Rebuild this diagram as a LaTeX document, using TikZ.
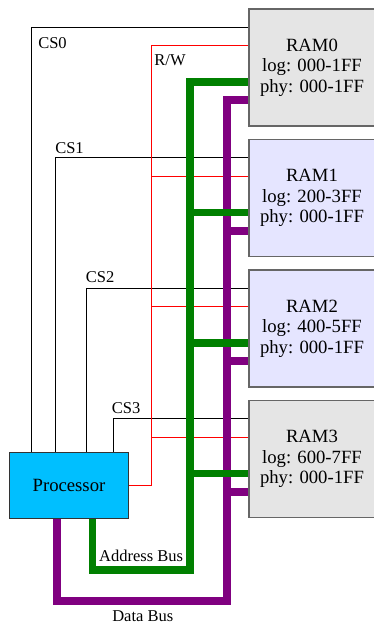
\documentclass[tikz,border=0pt]{standalone}
\usepackage{fontspec}
\setmainfont{Liberation Serif}
\usetikzlibrary{calc,backgrounds}
\definecolor{cpublue}{RGB}{0,191,255}
\definecolor{buspurple}{RGB}{128,0,128}
\definecolor{busgreen}{RGB}{0,128,0}
\definecolor{rwred}{RGB}{255,0,0}

\begin{document}
\begin{tikzpicture}[
  x=1pt, y=-1pt,
  font=\fontsize{16.5}{18}\selectfont,
  ram/.style={draw=black!60, line width=1.3pt, minimum width=126pt, minimum height=117pt, align=center, font=\fontsize{18.7}{20.5}\selectfont},
  cpu/.style={draw=black!80, line width=0.9pt, fill=cpublue, minimum width=119.4pt, minimum height=65.3pt, font=\fontsize{18.7}{20.5}\selectfont},
  sel/.style={draw=black, line width=0.8pt},
  rwline/.style={draw=rwred, line width=1pt},
  abus/.style={draw=busgreen, line width=7.5pt},
  dbus/.style={draw=buspurple, line width=8pt},
  lbl/.style={inner sep=0pt}
]

\useasboundingbox (0,0) rectangle (374,625);

% Memory banks, stacked down the right edge.
\foreach \i/\shade/\range in {0/gray!20/000-1FF,1/blue!10/200-3FF,2/blue!10/400-5FF,3/gray!20/600-7FF}{
  \node[ram, fill=\shade] (ram\i) at (312,{67.5+130.5*\i}) {RAM\i\\log: \range\\phy: 000-1FF};
  \coordinate (cs\i) at ($(ram\i.north west)+(0,19)$);
  \coordinate (rw\i) at ($(ram\i.north west)+(0,37.5)$);
  \coordinate (ab\i) at ($(ram\i.north west)+(0,73.5)$);
  \coordinate (db\i) at ($(ram\i.north west)+(0,92)$);
}
\node[cpu] (proc) at (69,485.3) {Processor};

% Turning points of the shared lines.
\coordinate (rwx) at (151.7,485.3);
\coordinate (abx) at (190,570);
\coordinate (dbx) at (227,601);

\begin{scope}[on background layer]
% Chip selects, one per bank.
\foreach \i/\dx in {0/23,1/46.4,2/77.7,3/105}
  \draw[sel] ($(proc.north west)+(\dx,0)$) |- (cs\i);

% Read/write strobe shared by all banks.
\draw[rwline] (proc.east) -| (rw0 -| rwx) -- (rw0);
\foreach \i in {1,2,3}
  \draw[rwline] (rw\i -| rwx) -- (rw\i);

% Address and data buses.
\draw[abus] ($(proc.south west)+(83.7,0)$) |- (abx) -- (ab0 -| abx) -- (ab0);
\draw[dbus] ($(proc.south west)+(47.7,0)$) |- (dbx) -- (db0 -| dbx) -- (db0);
\foreach \i in {1,2,3}{
  \draw[abus] (ab\i -| abx) -- (ab\i);
  \draw[dbus] (db\i -| dbx) -- (db\i);
}
\end{scope}

% Signal names.
\node[lbl] (cs0lbl) at (52.5,43) {CS0};
\node[lbl] (cs1lbl) at (69.5,147.7) {CS1};
\node[lbl] (cs2lbl) at (100.2,277.3) {CS2};
\node[lbl] (cs3lbl) at (126.2,408.3) {CS3};
\node[lbl] (rwlbl) at (170,60) {R/W};
\node[lbl, anchor=south east] (ablbl) at ($(abx)+(-6.7,-8.5)$) {Address Bus};
\node[lbl] (dblbl) at (142.8,616) {Data Bus};

\end{tikzpicture}
\end{document}
